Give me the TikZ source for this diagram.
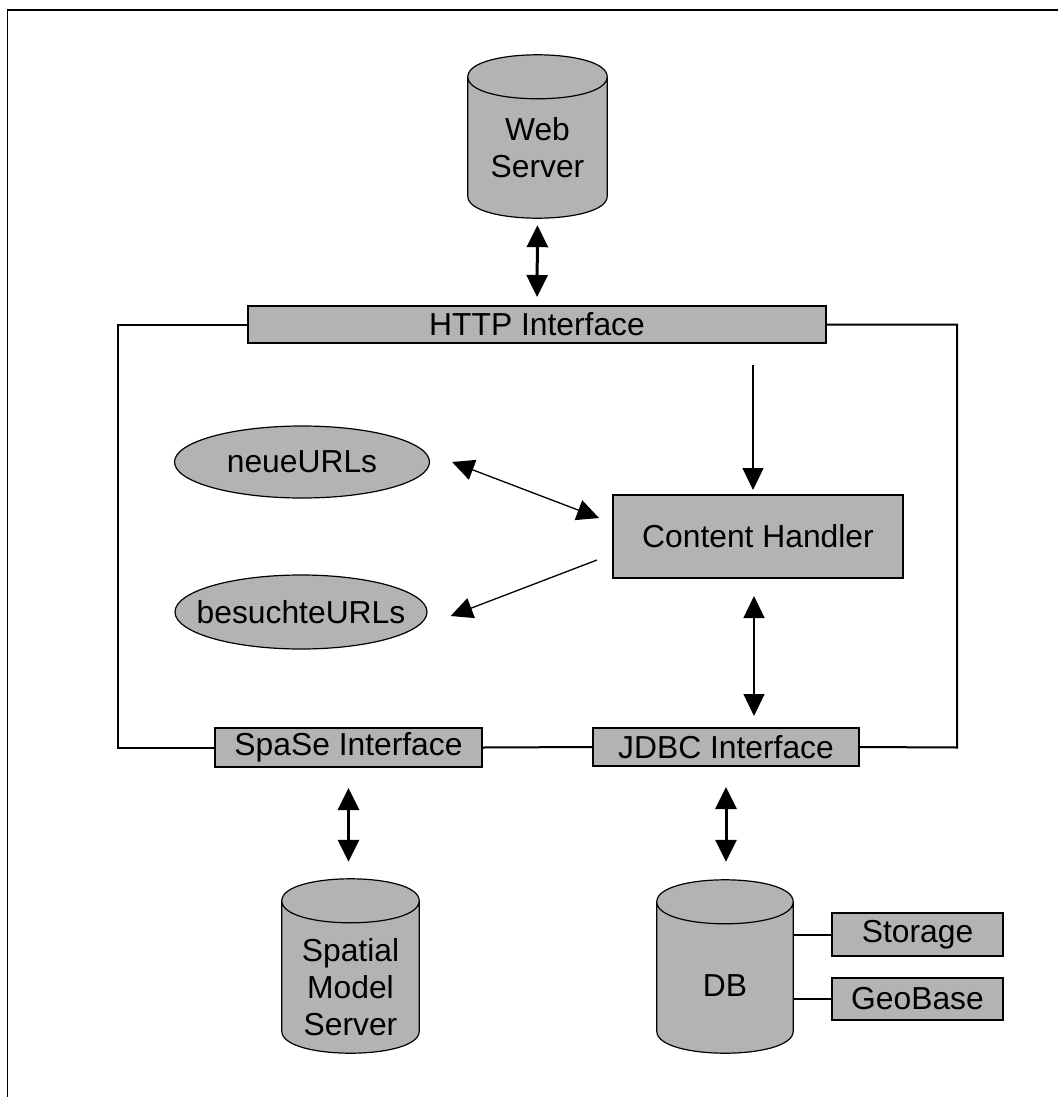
\documentclass[tikz,border=0pt]{standalone}
\usepackage{fontspec}
\setmainfont{Liberation Sans}
\usetikzlibrary{arrows.meta,backgrounds,shapes.geometric,calc}

\definecolor{partgray}{RGB}{179,179,179}

% outline of a vertical cylinder filling the box of node #1, end caps of half height #2
\newcommand\cylpath[2]{%
  \path[cylline] let \p1=(#1.north west), \p2=(#1.south east) in
    (\x1,\y1-#2) -- (\x1,\y2+#2)
      .. controls (\x1,\y2-#2/3) and (\x2,\y2-#2/3) .. (\x2,\y2+#2)
      -- (\x2,\y1-#2)
      .. controls (\x2,\y1+#2/3) and (\x1,\y1+#2/3) .. cycle
    (\x1,\y1-#2) .. controls (\x1,\y1-7*#2/3) and (\x2,\y1-7*#2/3) .. (\x2,\y1-#2);
}

\tikzset{
  every node/.style={font=\fontsize{31.8}{37}\selectfont, inner sep=0pt},
  bar/.style={rectangle, draw, line width=2pt, fill=partgray},
  urlstore/.style={ellipse, draw, line width=1.2pt, fill=partgray},
  cylbox/.style={rectangle},
  cylline/.style={draw, line width=1.2pt, fill=partgray},
  cyltext/.style={align=center},
  bigtip/.tip={Triangle[width=21pt,length=22pt]},
  boldlink/.style={line width=3pt, bigtip-bigtip},
  twoway/.style={line width=1.3pt, bigtip-bigtip},
  oneway/.style={line width=1.3pt, -bigtip},
  wire/.style={line width=2pt},
  edge line/.style={line width=1.7pt},
}

\begin{document}
\begin{tikzpicture}[x=1pt,y=-1pt]
\useasboundingbox (0,0) rectangle (1058,1097);

% page edge lines
\draw[edge line] (7.5,1097) -- (7.5,10) -- (1058,10);

% servers and database
\node[cylbox, minimum width=139pt, minimum height=163pt] (web) at (537.5,136.5) {};
\node[cyltext] (web-text) at (537.5,148) {Web\\Server};

\node[cylbox, minimum width=137pt, minimum height=174pt] (sms) at (350.5,966) {};
\node[cyltext] (sms-text) at (350.5,987) {Spatial\\Model\\Server};

\node[cylbox, minimum width=136pt, minimum height=173pt] (db) at (725,966.5) {};
\node[cyltext] (db-text) at (725,986) {DB};

\begin{scope}[on background layer]
  \cylpath{web}{22pt}
  \cylpath{sms}{22pt}
  \cylpath{db}{22pt}
\end{scope}

% interfaces
\node[bar, minimum width=578pt, minimum height=37pt] (http) at (537,324.5) {HTTP Interface};
\node[bar, minimum width=267pt, minimum height=39pt] (spase) at (348.5,747.5) {SpaSe Interface};
\node[bar, minimum width=266pt, minimum height=38pt] (jdbc) at (726,747) {JDBC Interface};

% inner components
\node[bar, minimum width=290pt, minimum height=83pt] (ch) at (758,536.5) {Content Handler};
\node[urlstore, minimum width=255pt, minimum height=72pt] (neue) at (302,462) {\makebox[0pt]{neueURLs}};
\node[urlstore, minimum width=252pt, minimum height=74pt] (besucht) at (301,612) {\makebox[0pt]{besuchteURLs}};

% storage parts of the database
\node[bar, minimum width=171pt, minimum height=43pt] (storage) at (917.5,934.5) {Storage};
\node[bar, minimum width=171pt, minimum height=42pt] (geobase) at (917.5,999) {GeoBase};

% frame joining the interfaces
\coordinate (frameL) at (118,747.5);
\coordinate (frameR) at (957,747.5);
\draw[wire] (http.west) -| (frameL) -- (spase.west);
\draw[wire] (http.east) -| (frameR) -- (jdbc.east);
\draw[wire] (spase.east) -- (jdbc.west);
\draw[wire] (db.east |- storage.west) -- (storage.west);
\draw[wire] (db.east |- geobase.west) -- (geobase.west);

% data flows
\draw[boldlink, shorten <=7pt, shorten >=8pt] (web.south) -- (http.north);
\coordinate (chin) at ([xshift=-5pt]ch.north);
\draw[oneway, shorten <=21pt, shorten >=4pt] (chin |- http.south) -- (chin);
\draw[twoway] ([xshift=22pt]neue.east) -- ([shift={(-13pt,18.5pt)}]ch.west);
\draw[oneway] ([shift={(-15pt,-23.5pt)}]ch.west) -- ([shift={(23pt,-4pt)}]besucht.east);
\coordinate (chout) at ([xshift=-4pt]ch.south);
\draw[twoway, shorten <=17pt, shorten >=11pt] (chout) -- (chout |- jdbc.north);
\draw[boldlink, shorten <=20pt, shorten >=17pt] (spase.south) -- (spase.south |- sms.north);
\draw[boldlink, shorten <=20pt, shorten >=18pt] (jdbc.south) -- (jdbc.south |- db.north);
\end{tikzpicture}
\end{document}
